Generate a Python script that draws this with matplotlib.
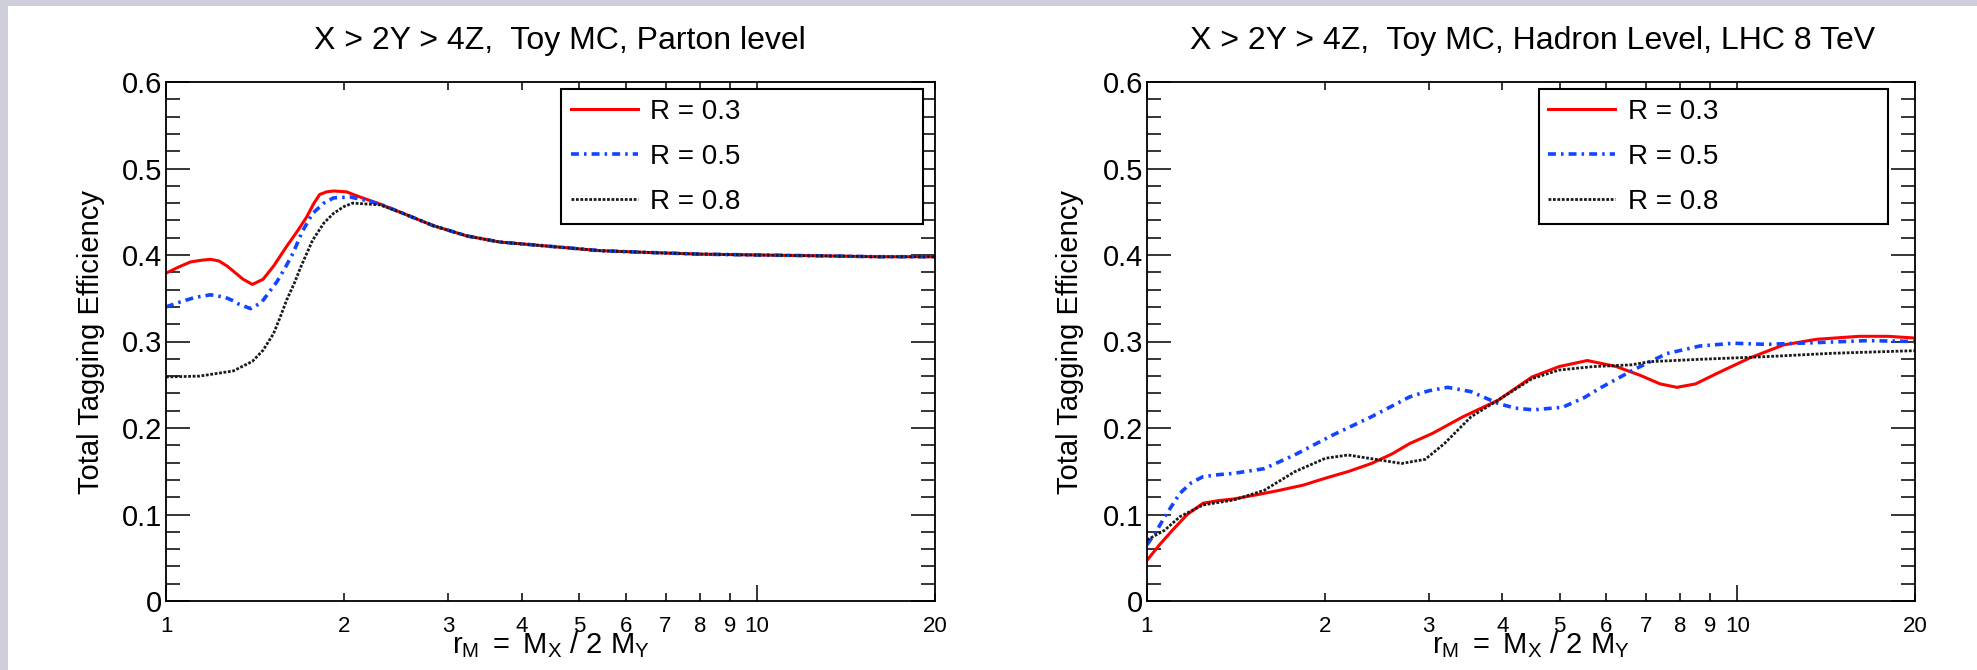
import matplotlib
matplotlib.use("Agg")
import matplotlib.pyplot as plt
from matplotlib.patches import Rectangle
from matplotlib.ticker import FixedLocator, FixedFormatter, MultipleLocator

plt.rcParams['font.family'] = ['Liberation Sans', 'DejaVu Sans']
plt.rcParams['mathtext.fontset'] = 'custom'
plt.rcParams['mathtext.rm'] = 'Liberation Sans'
plt.rcParams['mathtext.it'] = 'Liberation Sans:italic'

# ---- data ----
# parton level (left)
parton_x_03 = [1.0, 1.05, 1.1, 1.15, 1.19, 1.23, 1.27, 1.35, 1.40, 1.46, 1.52, 1.60, 1.67, 1.73, 1.78, 1.82,
               1.87, 1.92, 2.02, 2.13, 2.3, 2.5, 2.83, 3.23, 3.67, 4.47, 5.42, 6.5, 8, 10, 13, 16, 20]
parton_y_03 = [0.379, 0.386, 0.392, 0.394, 0.395, 0.393, 0.387, 0.372, 0.366, 0.372, 0.387, 0.410, 0.428, 0.444, 0.460, 0.470,
               0.473, 0.474, 0.473, 0.467, 0.459, 0.449, 0.434, 0.422, 0.415, 0.410, 0.405, 0.403, 0.401, 0.400, 0.399, 0.398, 0.398]
parton_x_05 = [1.0, 1.06, 1.12, 1.19, 1.26, 1.30, 1.33, 1.39, 1.45, 1.54, 1.59, 1.64, 1.70, 1.77, 1.85,
               1.92, 2.05, 2.15, 2.3, 2.5, 2.83, 3.23, 3.67, 4.47, 5.42, 6.5, 8, 10, 13, 16, 20]
parton_y_05 = [0.340, 0.346, 0.351, 0.354, 0.351, 0.347, 0.343, 0.338, 0.345, 0.369, 0.385, 0.402, 0.427, 0.448, 0.460,
               0.466, 0.467, 0.464, 0.459, 0.449, 0.434, 0.422, 0.415, 0.410, 0.405, 0.403, 0.401, 0.400, 0.399, 0.398, 0.398]
parton_x_08 = [1.0, 1.14, 1.30, 1.40, 1.46, 1.52, 1.56, 1.60, 1.65, 1.69, 1.77, 1.85, 1.92, 2.0, 2.07,
               2.18, 2.3, 2.5, 2.83, 3.23, 3.67, 4.47, 5.42, 6.5, 8, 10, 13, 16, 20]
parton_y_08 = [0.259, 0.260, 0.266, 0.277, 0.290, 0.309, 0.328, 0.348, 0.368, 0.386, 0.417, 0.437, 0.448, 0.456, 0.460,
               0.459, 0.458, 0.449, 0.434, 0.422, 0.415, 0.410, 0.405, 0.403, 0.401, 0.400, 0.399, 0.398, 0.398]

# hadron level (right)
hadron_x_03 = [1.0, 1.05, 1.105, 1.17, 1.244, 1.32, 1.403, 1.54, 1.677, 1.84, 2.006, 2.2, 2.40, 2.6, 2.786,
               3.05, 3.43, 3.93, 4.49, 4.99, 5.57, 6.24, 6.84, 7.4, 7.9, 8.5, 9.23, 10.5, 11.97, 13.6, 16.1, 18, 20]
hadron_y_03 = [0.047, 0.065, 0.082, 0.100, 0.113, 0.116, 0.118, 0.123, 0.128, 0.134, 0.142, 0.150, 0.159, 0.170, 0.182,
               0.194, 0.213, 0.232, 0.259, 0.271, 0.278, 0.271, 0.261, 0.251, 0.247, 0.251, 0.263, 0.281, 0.296, 0.3025, 0.306, 0.306, 0.304]
hadron_x_05 = [1.0, 1.036, 1.072, 1.137, 1.19, 1.244, 1.32, 1.403, 1.58, 1.78, 2.066, 2.40, 2.786, 3.0, 3.23,
               3.54, 3.93, 4.2, 4.51, 5.06, 5.5, 5.85, 6.66, 7.59, 8.64, 9.84, 11.2, 13.6, 16.6, 20]
hadron_y_05 = [0.065, 0.080, 0.0975, 0.1245, 0.137, 0.1437, 0.146, 0.1476, 0.153, 0.169, 0.192, 0.213, 0.236, 0.243, 0.247,
               0.242, 0.2285, 0.223, 0.221, 0.224, 0.235, 0.246, 0.267, 0.286, 0.2948, 0.298, 0.2967, 0.2987, 0.301, 0.300]
hadron_x_08 = [1.0, 1.072, 1.137, 1.244, 1.403, 1.58, 1.78, 2.006, 2.19, 2.437, 2.70, 2.96, 3.19, 3.54, 3.93,
               4.49, 4.99, 5.70, 6.61, 7.11, 8.64, 11.2, 14.5, 20]
hadron_y_08 = [0.0705, 0.082, 0.0975, 0.111, 0.1168, 0.128, 0.1495, 0.165, 0.1688, 0.1638, 0.159, 0.1638, 0.182, 0.213, 0.232,
               0.257, 0.267, 0.271, 0.273, 0.2767, 0.2794, 0.2825, 0.2864, 0.2894]

labels = ['R = 0.3', 'R = 0.5', 'R = 0.8']
titles = ['X > 2Y > 4Z,  Toy MC, Parton level', 'X > 2Y > 4Z,  Toy MC, Hadron Level, LHC 8 TeV']
major_x = [1, 10]
minor_x = [2, 3, 4, 5, 6, 7, 8, 9, 20]

W, H = 1977, 670
fig = plt.figure(figsize=(W / 100, H / 100), dpi=100)
fig.patch.set_facecolor('#cfcfdb')
fig.patches.append(Rectangle((8 / W, 0), 1 - 8 / W, (H - 6) / H, transform=fig.transFigure,
                             facecolor='white', edgecolor='none', zorder=-10))

ax1 = fig.add_axes([166 / W, (H - 601) / H, 769 / W, 519 / H])
ax2 = fig.add_axes([1147 / W, (H - 601) / H, 768 / W, 519 / H])

series = [
    (ax1, [(parton_x_03, parton_y_03), (parton_x_05, parton_y_05), (parton_x_08, parton_y_08)], 0.514, 0.471, -0.079, 0.512),
    (ax2, [(hadron_x_03, hadron_y_03), (hadron_x_05, hadron_y_05), (hadron_x_08, hadron_y_08)], 0.51, 0.455, -0.082, 0.502),
]
styles = [
    dict(color='#ff0000', lw=2.2, linestyle='-'),
    dict(color='#1245ff', lw=2.6, linestyle=(0, (2.2, 1.4, 0.7, 1.4))),
    dict(color='#1a1a1a', lw=2.0, linestyle=(0, (1.0, 0.6))),
]

for i, (ax, data, leg_x, leg_w, ylab_x, title_x) in enumerate(series):
    for (xs, ys), st, lab in zip(data, styles, labels):
        ax.plot(xs, ys, label=lab, **st)
    ax.set_xscale('log')
    ax.set_xlim(1, 20)
    ax.set_ylim(0, 0.6)
    ax.xaxis.set_major_locator(FixedLocator(major_x))
    ax.xaxis.set_major_formatter(FixedFormatter([str(v) for v in major_x]))
    ax.xaxis.set_minor_locator(FixedLocator(minor_x))
    ax.xaxis.set_minor_formatter(FixedFormatter([str(v) for v in minor_x]))
    ax.yaxis.set_major_locator(MultipleLocator(0.1))
    ax.yaxis.set_minor_locator(MultipleLocator(0.02))
    ax.set_yticks([0, 0.1, 0.2, 0.3, 0.4, 0.5, 0.6])
    ax.set_yticklabels(['0', '0.1', '0.2', '0.3', '0.4', '0.5', '0.6'])
    ax.tick_params(axis='both', which='both', direction='in', top=True, right=True, width=1.1, color='black')
    ax.tick_params(axis='y', which='major', length=17, labelsize=21, pad=3)
    ax.tick_params(axis='y', which='minor', length=10)
    ax.tick_params(axis='x', which='major', length=11.5, labelsize=16, pad=10.5)
    ax.tick_params(axis='x', which='minor', length=6, labelsize=16, pad=10.5)
    for sp in ax.spines.values():
        sp.set_linewidth(1.3)
    ax.set_title(titles[i], fontsize=23, pad=24, x=title_x)
    ax.set_ylabel('Total Tagging Efficiency', fontsize=21)
    ax.yaxis.set_label_coords(ylab_x, 0.5)
    ax.set_xlabel(r'$\mathrm{r_{M}\ =\ M_{X}\ /\ 2\ M_{Y}}$', fontsize=21)
    ax.xaxis.set_label_coords(0.5, -0.054)
    leg = ax.legend(loc='upper left', bbox_to_anchor=(leg_x, 0.986, leg_w, 0.0), mode='expand',
                    borderaxespad=0, fontsize=20, handlelength=2.4, handletextpad=0.45,
                    borderpad=0.35, labelspacing=0.68, fancybox=False, framealpha=1)
    leg.get_frame().set_edgecolor('black')
    leg.get_frame().set_linewidth(1.5)

fig.savefig('out.png', dpi=100, facecolor=fig.get_facecolor())
